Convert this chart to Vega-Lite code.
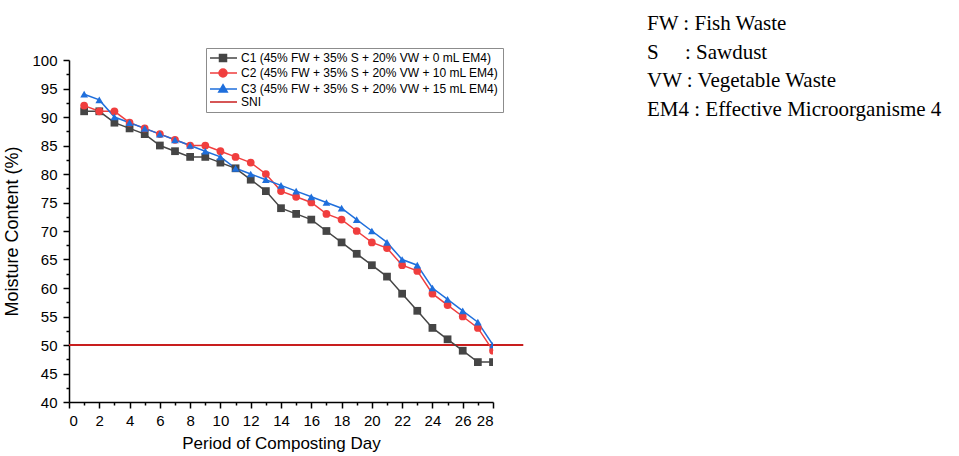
{
  "$schema": "https://vega.github.io/schema/vega-lite/v6.json",
  "width": 424,
  "height": 342,
  "autosize": {"type": "none"},
  "padding": {"left": 69, "top": 60, "right": 466, "bottom": 54},
  "background": "white",
  "config": {
    "view": {"stroke": null},
    "font": "Liberation Sans",
    "axis": {"grid": false, "domainColor": "black", "tickColor": "black", "labelColor": "black", "titleColor": "black", "domainWidth": 1.5, "tickWidth": 1.5, "labelFont": "Liberation Sans", "titleFont": "Liberation Sans", "titleFontWeight": "normal", "labelFontSize": 15}
  },
  "title": {
    "text": ["FW : Fish Waste", "S\u00a0\u00a0\u00a0\u00a0\u00a0: Sawdust", "VW : Vegetable Waste", "EM4 : Effective Microorganisme 4"],
    "orient": "top",
    "anchor": "start",
    "frame": "group",
    "align": "left",
    "baseline": "alphabetic",
    "font": "Liberation Serif",
    "fontSize": 21,
    "fontWeight": "normal",
    "color": "black",
    "lineHeight": 28.5,
    "dx": 578,
    "dy": 89,
    "offset": 0
  },
  "datasets": {
    "moist": [
      {"day": 1, "series": "C1 (45% FW + 35% S + 20% VW + 0 mL EM4)", "mc": 91},
      {"day": 2, "series": "C1 (45% FW + 35% S + 20% VW + 0 mL EM4)", "mc": 91},
      {"day": 3, "series": "C1 (45% FW + 35% S + 20% VW + 0 mL EM4)", "mc": 89},
      {"day": 4, "series": "C1 (45% FW + 35% S + 20% VW + 0 mL EM4)", "mc": 88},
      {"day": 5, "series": "C1 (45% FW + 35% S + 20% VW + 0 mL EM4)", "mc": 87},
      {"day": 6, "series": "C1 (45% FW + 35% S + 20% VW + 0 mL EM4)", "mc": 85},
      {"day": 7, "series": "C1 (45% FW + 35% S + 20% VW + 0 mL EM4)", "mc": 84},
      {"day": 8, "series": "C1 (45% FW + 35% S + 20% VW + 0 mL EM4)", "mc": 83},
      {"day": 9, "series": "C1 (45% FW + 35% S + 20% VW + 0 mL EM4)", "mc": 83},
      {"day": 10, "series": "C1 (45% FW + 35% S + 20% VW + 0 mL EM4)", "mc": 82},
      {"day": 11, "series": "C1 (45% FW + 35% S + 20% VW + 0 mL EM4)", "mc": 81},
      {"day": 12, "series": "C1 (45% FW + 35% S + 20% VW + 0 mL EM4)", "mc": 79},
      {"day": 13, "series": "C1 (45% FW + 35% S + 20% VW + 0 mL EM4)", "mc": 77},
      {"day": 14, "series": "C1 (45% FW + 35% S + 20% VW + 0 mL EM4)", "mc": 74},
      {"day": 15, "series": "C1 (45% FW + 35% S + 20% VW + 0 mL EM4)", "mc": 73},
      {"day": 16, "series": "C1 (45% FW + 35% S + 20% VW + 0 mL EM4)", "mc": 72},
      {"day": 17, "series": "C1 (45% FW + 35% S + 20% VW + 0 mL EM4)", "mc": 70},
      {"day": 18, "series": "C1 (45% FW + 35% S + 20% VW + 0 mL EM4)", "mc": 68},
      {"day": 19, "series": "C1 (45% FW + 35% S + 20% VW + 0 mL EM4)", "mc": 66},
      {"day": 20, "series": "C1 (45% FW + 35% S + 20% VW + 0 mL EM4)", "mc": 64},
      {"day": 21, "series": "C1 (45% FW + 35% S + 20% VW + 0 mL EM4)", "mc": 62},
      {"day": 22, "series": "C1 (45% FW + 35% S + 20% VW + 0 mL EM4)", "mc": 59},
      {"day": 23, "series": "C1 (45% FW + 35% S + 20% VW + 0 mL EM4)", "mc": 56},
      {"day": 24, "series": "C1 (45% FW + 35% S + 20% VW + 0 mL EM4)", "mc": 53},
      {"day": 25, "series": "C1 (45% FW + 35% S + 20% VW + 0 mL EM4)", "mc": 51},
      {"day": 26, "series": "C1 (45% FW + 35% S + 20% VW + 0 mL EM4)", "mc": 49},
      {"day": 27, "series": "C1 (45% FW + 35% S + 20% VW + 0 mL EM4)", "mc": 47},
      {"day": 28, "series": "C1 (45% FW + 35% S + 20% VW + 0 mL EM4)", "mc": 47},
      {"day": 1, "series": "C2 (45% FW + 35% S + 20% VW + 10 mL EM4)", "mc": 92},
      {"day": 2, "series": "C2 (45% FW + 35% S + 20% VW + 10 mL EM4)", "mc": 91},
      {"day": 3, "series": "C2 (45% FW + 35% S + 20% VW + 10 mL EM4)", "mc": 91},
      {"day": 4, "series": "C2 (45% FW + 35% S + 20% VW + 10 mL EM4)", "mc": 89},
      {"day": 5, "series": "C2 (45% FW + 35% S + 20% VW + 10 mL EM4)", "mc": 88},
      {"day": 6, "series": "C2 (45% FW + 35% S + 20% VW + 10 mL EM4)", "mc": 87},
      {"day": 7, "series": "C2 (45% FW + 35% S + 20% VW + 10 mL EM4)", "mc": 86},
      {"day": 8, "series": "C2 (45% FW + 35% S + 20% VW + 10 mL EM4)", "mc": 85},
      {"day": 9, "series": "C2 (45% FW + 35% S + 20% VW + 10 mL EM4)", "mc": 85},
      {"day": 10, "series": "C2 (45% FW + 35% S + 20% VW + 10 mL EM4)", "mc": 84},
      {"day": 11, "series": "C2 (45% FW + 35% S + 20% VW + 10 mL EM4)", "mc": 83},
      {"day": 12, "series": "C2 (45% FW + 35% S + 20% VW + 10 mL EM4)", "mc": 82},
      {"day": 13, "series": "C2 (45% FW + 35% S + 20% VW + 10 mL EM4)", "mc": 80},
      {"day": 14, "series": "C2 (45% FW + 35% S + 20% VW + 10 mL EM4)", "mc": 77},
      {"day": 15, "series": "C2 (45% FW + 35% S + 20% VW + 10 mL EM4)", "mc": 76},
      {"day": 16, "series": "C2 (45% FW + 35% S + 20% VW + 10 mL EM4)", "mc": 75},
      {"day": 17, "series": "C2 (45% FW + 35% S + 20% VW + 10 mL EM4)", "mc": 73},
      {"day": 18, "series": "C2 (45% FW + 35% S + 20% VW + 10 mL EM4)", "mc": 72},
      {"day": 19, "series": "C2 (45% FW + 35% S + 20% VW + 10 mL EM4)", "mc": 70},
      {"day": 20, "series": "C2 (45% FW + 35% S + 20% VW + 10 mL EM4)", "mc": 68},
      {"day": 21, "series": "C2 (45% FW + 35% S + 20% VW + 10 mL EM4)", "mc": 67},
      {"day": 22, "series": "C2 (45% FW + 35% S + 20% VW + 10 mL EM4)", "mc": 64},
      {"day": 23, "series": "C2 (45% FW + 35% S + 20% VW + 10 mL EM4)", "mc": 63},
      {"day": 24, "series": "C2 (45% FW + 35% S + 20% VW + 10 mL EM4)", "mc": 59},
      {"day": 25, "series": "C2 (45% FW + 35% S + 20% VW + 10 mL EM4)", "mc": 57},
      {"day": 26, "series": "C2 (45% FW + 35% S + 20% VW + 10 mL EM4)", "mc": 55},
      {"day": 27, "series": "C2 (45% FW + 35% S + 20% VW + 10 mL EM4)", "mc": 53},
      {"day": 28, "series": "C2 (45% FW + 35% S + 20% VW + 10 mL EM4)", "mc": 49},
      {"day": 1, "series": "C3 (45% FW + 35% S + 20% VW + 15 mL EM4)", "mc": 94},
      {"day": 2, "series": "C3 (45% FW + 35% S + 20% VW + 15 mL EM4)", "mc": 93},
      {"day": 3, "series": "C3 (45% FW + 35% S + 20% VW + 15 mL EM4)", "mc": 90},
      {"day": 4, "series": "C3 (45% FW + 35% S + 20% VW + 15 mL EM4)", "mc": 89},
      {"day": 5, "series": "C3 (45% FW + 35% S + 20% VW + 15 mL EM4)", "mc": 88},
      {"day": 6, "series": "C3 (45% FW + 35% S + 20% VW + 15 mL EM4)", "mc": 87},
      {"day": 7, "series": "C3 (45% FW + 35% S + 20% VW + 15 mL EM4)", "mc": 86},
      {"day": 8, "series": "C3 (45% FW + 35% S + 20% VW + 15 mL EM4)", "mc": 85},
      {"day": 9, "series": "C3 (45% FW + 35% S + 20% VW + 15 mL EM4)", "mc": 84},
      {"day": 10, "series": "C3 (45% FW + 35% S + 20% VW + 15 mL EM4)", "mc": 83},
      {"day": 11, "series": "C3 (45% FW + 35% S + 20% VW + 15 mL EM4)", "mc": 81},
      {"day": 12, "series": "C3 (45% FW + 35% S + 20% VW + 15 mL EM4)", "mc": 80},
      {"day": 13, "series": "C3 (45% FW + 35% S + 20% VW + 15 mL EM4)", "mc": 79},
      {"day": 14, "series": "C3 (45% FW + 35% S + 20% VW + 15 mL EM4)", "mc": 78},
      {"day": 15, "series": "C3 (45% FW + 35% S + 20% VW + 15 mL EM4)", "mc": 77},
      {"day": 16, "series": "C3 (45% FW + 35% S + 20% VW + 15 mL EM4)", "mc": 76},
      {"day": 17, "series": "C3 (45% FW + 35% S + 20% VW + 15 mL EM4)", "mc": 75},
      {"day": 18, "series": "C3 (45% FW + 35% S + 20% VW + 15 mL EM4)", "mc": 74},
      {"day": 19, "series": "C3 (45% FW + 35% S + 20% VW + 15 mL EM4)", "mc": 72},
      {"day": 20, "series": "C3 (45% FW + 35% S + 20% VW + 15 mL EM4)", "mc": 70},
      {"day": 21, "series": "C3 (45% FW + 35% S + 20% VW + 15 mL EM4)", "mc": 68},
      {"day": 22, "series": "C3 (45% FW + 35% S + 20% VW + 15 mL EM4)", "mc": 65},
      {"day": 23, "series": "C3 (45% FW + 35% S + 20% VW + 15 mL EM4)", "mc": 64},
      {"day": 24, "series": "C3 (45% FW + 35% S + 20% VW + 15 mL EM4)", "mc": 60},
      {"day": 25, "series": "C3 (45% FW + 35% S + 20% VW + 15 mL EM4)", "mc": 58},
      {"day": 26, "series": "C3 (45% FW + 35% S + 20% VW + 15 mL EM4)", "mc": 56},
      {"day": 27, "series": "C3 (45% FW + 35% S + 20% VW + 15 mL EM4)", "mc": 54},
      {"day": 28, "series": "C3 (45% FW + 35% S + 20% VW + 15 mL EM4)", "mc": 50}
    ],
    "sni": [{"day": 0, "day2": 30, "mc": 50, "series": "SNI"}],
    "minor": [{"day": 1, "mc": 42.5}, {"day": 3, "mc": 47.5}, {"day": 5, "mc": 52.5}, {"day": 7, "mc": 57.5}, {"day": 9, "mc": 62.5}, {"day": 11, "mc": 67.5}, {"day": 13, "mc": 72.5}, {"day": 15, "mc": 77.5}, {"day": 17, "mc": 82.5}, {"day": 19, "mc": 87.5}, {"day": 21, "mc": 92.5}, {"day": 23, "mc": 97.5}]
  },
  "resolve": {"scale": {"x": "shared", "y": "shared"}, "axis": {"x": "independent", "y": "independent"}},
  "layer": [
    {
      "data": {"name": "minor"},
      "mark": {"type": "point", "opacity": 0},
      "encoding": {
        "x": {"field": "day", "type": "quantitative", "scale": {"domain": [0, 28], "nice": false, "zero": false},
          "axis": {"orient": "bottom", "values": [1, 3, 5, 7, 9, 11, 13, 15, 17, 19, 21, 23, 25, 27], "labels": false, "title": null, "tickSize": 3, "domain": false}},
        "y": {"field": "mc", "type": "quantitative", "scale": {"domain": [40, 100], "nice": false, "zero": false},
          "axis": {"orient": "left", "values": [42.5, 47.5, 52.5, 57.5, 62.5, 67.5, 72.5, 77.5, 82.5, 87.5, 92.5, 97.5], "labels": false, "title": null, "tickSize": 3, "domain": false}}
      }
    },
    {
      "data": {"name": "sni"},
      "mark": {"type": "rule", "strokeWidth": 2},
      "encoding": {
        "x": {"field": "day", "type": "quantitative",
          "axis": {"orient": "bottom", "values": [0, 2, 4, 6, 8, 10, 12, 14, 16, 18, 20, 22, 24, 26, 28], "tickSize": 6, "labelPadding": 5, "title": "Period of Composting Day", "titleFontSize": 17, "titlePadding": 7}},
        "x2": {"field": "day2"},
        "y": {"field": "mc", "type": "quantitative",
          "axis": {"orient": "left", "values": [40, 45, 50, 55, 60, 65, 70, 75, 80, 85, 90, 95, 100], "tickSize": 6, "labelPadding": 6, "title": "Moisture Content (%)", "titleFontSize": 18, "titlePadding": 10}},
        "color": {"field": "series", "type": "nominal"}
      }
    },
    {
      "data": {"name": "moist"},
      "mark": {"type": "line", "strokeWidth": 1.5},
      "encoding": {
        "x": {"field": "day", "type": "quantitative", "axis": null},
        "y": {"field": "mc", "type": "quantitative", "axis": null},
        "color": {"field": "series", "type": "nominal",
          "scale": {
            "domain": ["C1 (45% FW + 35% S + 20% VW + 0 mL EM4)", "C2 (45% FW + 35% S + 20% VW + 10 mL EM4)", "C3 (45% FW + 35% S + 20% VW + 15 mL EM4)", "SNI"],
            "range": ["#454545", "#f03e3e", "#1f6fdc", "#c81e1e"]
          },
          "legend": {
            "title": null,
            "orient": "none",
            "legendX": 137,
            "legendY": -12,
            "padding": 4,
            "strokeColor": "#8c8c8c",
            "fillColor": "white",
            "symbolSize": 100,
            "labelOffset": 19,
            "labelFont": "Liberation Sans",
            "labelFontSize": 12,
            "labelColor": "black",
            "labelLimit": 400,
            "rowPadding": 1,
            "encode": {
              "symbols": {
                "update": {
                  "shape": {"signal": "datum.value === 'SNI' ? 'M-1.2,0H4.2' : substring(datum.value,0,2) === 'C1' ? 'M-1.2,0H4.2M0.7,-0.7H2.1V0.7H0.7Z' : substring(datum.value,0,2) === 'C2' ? 'M-1.2,0H4.2M0.6,0A0.8,0.8 0 1,0 2.2,0A0.8,0.8 0 1,0 0.6,0Z' : 'M-1.2,0H4.2M1.4,-0.85L2.25,0.6H0.55Z'"},
                  "fill": {"signal": "datum.value === 'SNI' ? 'transparent' : scale('color', datum.value)"},
                  "stroke": {"signal": "scale('color', datum.value)"},
                  "strokeWidth": {"value": 1.5},
                  "opacity": {"value": 1}
                }
              }
            }
          }
        }
      }
    },
    {
      "data": {"name": "moist"},
      "mark": {"type": "point", "filled": true, "opacity": 1, "size": 60, "clip": true},
      "encoding": {
        "x": {"field": "day", "type": "quantitative", "axis": null},
        "y": {"field": "mc", "type": "quantitative", "axis": null},
        "color": {"field": "series", "type": "nominal"},
        "shape": {"field": "series", "type": "nominal", "legend": null,
          "scale": {
            "domain": ["C1 (45% FW + 35% S + 20% VW + 0 mL EM4)", "C2 (45% FW + 35% S + 20% VW + 10 mL EM4)", "C3 (45% FW + 35% S + 20% VW + 15 mL EM4)"],
            "range": ["square", "circle", "triangle-up"]
          }
        }
      }
    }
  ]
}
